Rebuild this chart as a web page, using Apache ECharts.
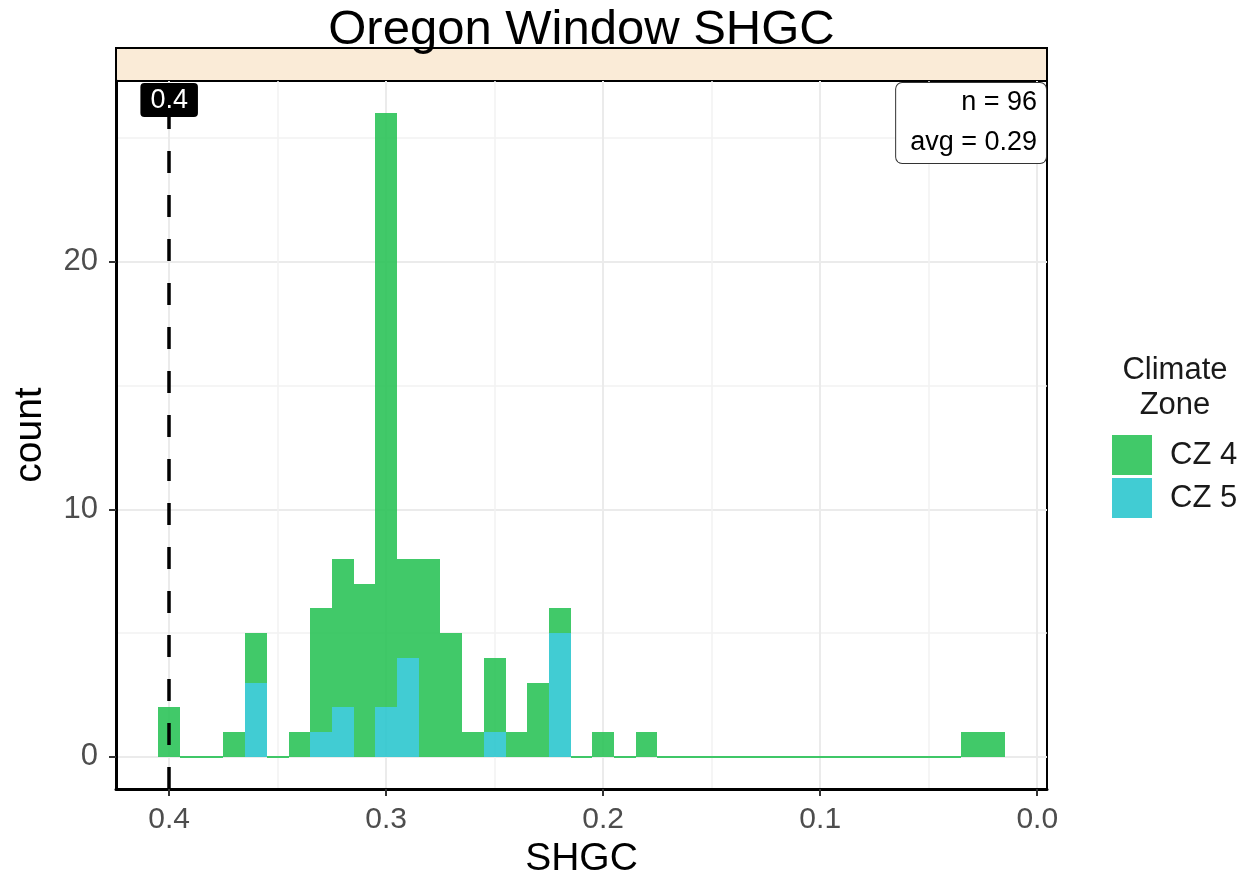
<!DOCTYPE html>
<html lang="en">

<head>
  <meta charset="UTF-8">
  <title>Oregon Window SHGC</title>
  <script src="https://cdn.jsdelivr.net/npm/echarts@6/dist/echarts.min.js"></script>
  <style>
    * {
      padding: 0;
      margin: 0;
    }

    #box {
      width: 1253px;
      height: 884px;
    }
  </style>
</head>

<body>
  <div id="box"></div>
  <script>
    // histogram bins (centre of each 0.01 wide bin), left to right as drawn
    var binMids = [0.40, 0.39, 0.38, 0.37, 0.36, 0.35, 0.34, 0.33, 0.32, 0.31,
      0.30, 0.29, 0.28, 0.27, 0.26, 0.25, 0.24, 0.23, 0.22, 0.21,
      0.20, 0.19, 0.18, 0.17, 0.16, 0.15, 0.14, 0.13, 0.12, 0.11,
      0.10, 0.09, 0.08, 0.07, 0.06, 0.05, 0.04, 0.03, 0.02]
    var cz4 = [2, 0, 0, 1, 2, 0, 1, 5, 6, 7,
      24, 4, 8, 5, 1, 3, 1, 3, 1, 0,
      1, 0, 1, 0, 0, 0, 0, 0, 0, 0,
      0, 0, 0, 0, 0, 0, 0, 1, 1]
    var cz5 = [0, 0, 0, 0, 3, 0, 0, 1, 2, 0,
      2, 4, 0, 0, 0, 1, 0, 0, 5, 0,
      0, 0, 0, 0, 0, 0, 0, 0, 0, 0,
      0, 0, 0, 0, 0, 0, 0, 0, 0]
    var binWidth = 0.01
    var xTicks = [0, 0.1, 0.2, 0.3, 0.4]
    var yTicks = [0, 10, 20]
    var refLine = 0.4      // dashed reference (code limit)
    var avgShgc = 0.29
    var seriesNames = ['CZ 4', 'CZ 5']
    var colors = ['#2cc359', '#2cc7ce']

    var FONT = '"Liberation Sans", Arial, sans-serif'

    // counts / ranges (ggplot style 5% expansion)
    var totals = []
    var n = 0
    for (let i = 0; i < binMids.length; i++) {
      totals.push(cz4[i] + cz5[i])
      n += cz4[i] + cz5[i]
    }
    var xLo = Math.min.apply(null, binMids) - binWidth / 2
    var xHi = Math.max.apply(null, binMids) + binWidth / 2
    var xPad = (xHi - xLo) * 0.05
    var yMax = Math.max.apply(null, totals)
    var yPad = yMax * 0.05
    var labelTopY = 25.85   // where the dashed line stops under its label

    var cz5Data = []
    var cz4Data = []
    for (let i = 0; i < binMids.length; i++) {
      cz5Data.push([binMids[i], 0, cz5[i]])
      cz4Data.push([binMids[i], cz5[i], cz5[i] + cz4[i]])
    }

    function binRect(color, drawEmpty) {
      return function (params, api) {
        var mid = api.value(0)
        var lo = api.value(1)
        var hi = api.value(2)
        var a = api.coord([mid + binWidth / 2, hi])
        var b = api.coord([mid - binWidth / 2, lo])
        // snap to whole pixels so neighbouring bins meet without seams
        var x0 = Math.round(Math.min(a[0], b[0]))
        var x1 = Math.round(Math.max(a[0], b[0]))
        var y0 = Math.round(a[1])
        var y1 = Math.round(b[1])
        if (y1 - y0 <= 0) {
          // empty bins show as a thin line on the baseline
          if (!drawEmpty || lo !== 0) return
          return {
            type: 'rect',
            shape: { x: x0, y: y1 - 1, width: x1 - x0, height: 2 },
            style: { fill: color, opacity: 0.9 }
          }
        }
        return {
          type: 'rect',
          shape: { x: x0, y: y0, width: x1 - x0, height: y1 - y0 },
          style: { fill: color, opacity: 0.9 }
        }
      }
    }

    var mCharts = echarts.init(document.getElementById('box'))
    var option = {
      animation: false,
      backgroundColor: '#fff',
      grid: {
        left: 116, right: 206, top: 81, bottom: 95,
        show: true, borderColor: '#000', borderWidth: 2
      },
      xAxis: {
        type: 'value',
        inverse: true,
        min: xLo - xPad,
        max: xHi + xPad,
        splitNumber: 4,
        name: 'SHGC',
        nameLocation: 'middle',
        nameGap: 48,
        nameTextStyle: { fontFamily: FONT, fontSize: 39, color: '#000' },
        axisLine: { onZero: false, lineStyle: { color: '#000', width: 3 } },
        axisTick: { customValues: xTicks, length: 7, lineStyle: { color: '#333', width: 2 } },
        axisLabel: {
          customValues: xTicks, margin: 16, fontFamily: FONT, fontSize: 30, color: '#4d4d4d',
          formatter: function (v) { return v.toFixed(1) }
        },
        splitLine: { show: true, lineStyle: { color: '#ebebeb', width: 2 } },
        minorTick: { show: false, splitNumber: 2 },
        minorSplitLine: { show: true, lineStyle: { color: '#f2f2f2', width: 1.5 } }
      },
      yAxis: {
        type: 'value',
        min: -yPad,
        max: yMax + yPad,
        splitNumber: 3,
        name: 'count',
        nameLocation: 'middle',
        nameGap: 66,
        nameTextStyle: { fontFamily: FONT, fontSize: 39, color: '#000' },
        axisLine: { show: true, onZero: false, lineStyle: { color: '#000', width: 3 } },
        axisTick: { show: true, customValues: yTicks, length: 7, lineStyle: { color: '#333', width: 2 } },
        axisLabel: { customValues: yTicks, margin: 18, fontFamily: FONT, fontSize: 31, color: '#4d4d4d' },
        splitLine: { show: true, lineStyle: { color: '#ebebeb', width: 2 } },
        minorTick: { show: false, splitNumber: 2 },
        minorSplitLine: { show: true, lineStyle: { color: '#f2f2f2', width: 1.5 } }
      },
      legend: {
        data: seriesNames,
        orient: 'vertical',
        left: 1112,
        top: 435,
        padding: 0,
        itemWidth: 40,
        itemHeight: 40,
        itemGap: 3,
        icon: 'rect',
        textStyle: { fontFamily: FONT, fontSize: 31, color: '#1a1a1a', padding: [0, 0, 0, 13] }
      },
      graphic: [
        // facet strip
        {
          type: 'rect',
          shape: { x: 116, y: 48, width: 931, height: 33 },
          style: { fill: '#faebd7', stroke: '#000', lineWidth: 2 }
        },
        {
          type: 'text',
          x: 581.5, y: 30,
          style: {
            text: 'Oregon Window SHGC', font: '49px ' + FONT, fill: '#000',
            textAlign: 'center', textVerticalAlign: 'middle'
          }
        },
        {
          type: 'text',
          x: 1175, y: 353,
          style: {
            text: 'Climate\nZone', font: '31px ' + FONT, fill: '#1a1a1a',
            textAlign: 'center', textVerticalAlign: 'top', lineHeight: 35
          }
        },
        {
          type: 'text',
          z: 100,
          x: 1046, y: 83,
          style: {
            text: 'n = ' + n + '\navg = ' + avgShgc.toFixed(2),
            font: '27px ' + FONT, fill: '#000',
            textAlign: 'right', textVerticalAlign: 'top', lineHeight: 40,
            backgroundColor: '#fff', borderColor: '#333', borderWidth: 1, borderRadius: 6,
            padding: [0, 9, 0, 14]
          }
        }
      ],
      series: [
        {
          name: 'CZ 5',
          type: 'custom',
          renderItem: binRect(colors[1], false),
          itemStyle: { color: colors[1], opacity: 0.9 },
          encode: { x: 0, y: [1, 2] },
          data: cz5Data
        },
        {
          name: 'CZ 4',
          type: 'custom',
          renderItem: binRect(colors[0], true),
          itemStyle: { color: colors[0], opacity: 0.9 },
          encode: { x: 0, y: [1, 2] },
          data: cz4Data,
          markLine: {
            silent: true,
            symbol: 'none',
            lineStyle: { color: '#000', width: 3.5, type: [22, 22] },
            label: {
              position: 'end', distance: 0,
              formatter: refLine.toFixed(1),
              color: '#fff', backgroundColor: '#000', borderRadius: 4,
              padding: [4, 10, 3, 10], fontFamily: FONT, fontSize: 27
            },
            data: [[{ coord: [refLine, -yPad] }, { coord: [refLine, labelTopY] }]]
          }
        }
      ]
    }
    mCharts.setOption(option)
  </script>
</body>

</html>
